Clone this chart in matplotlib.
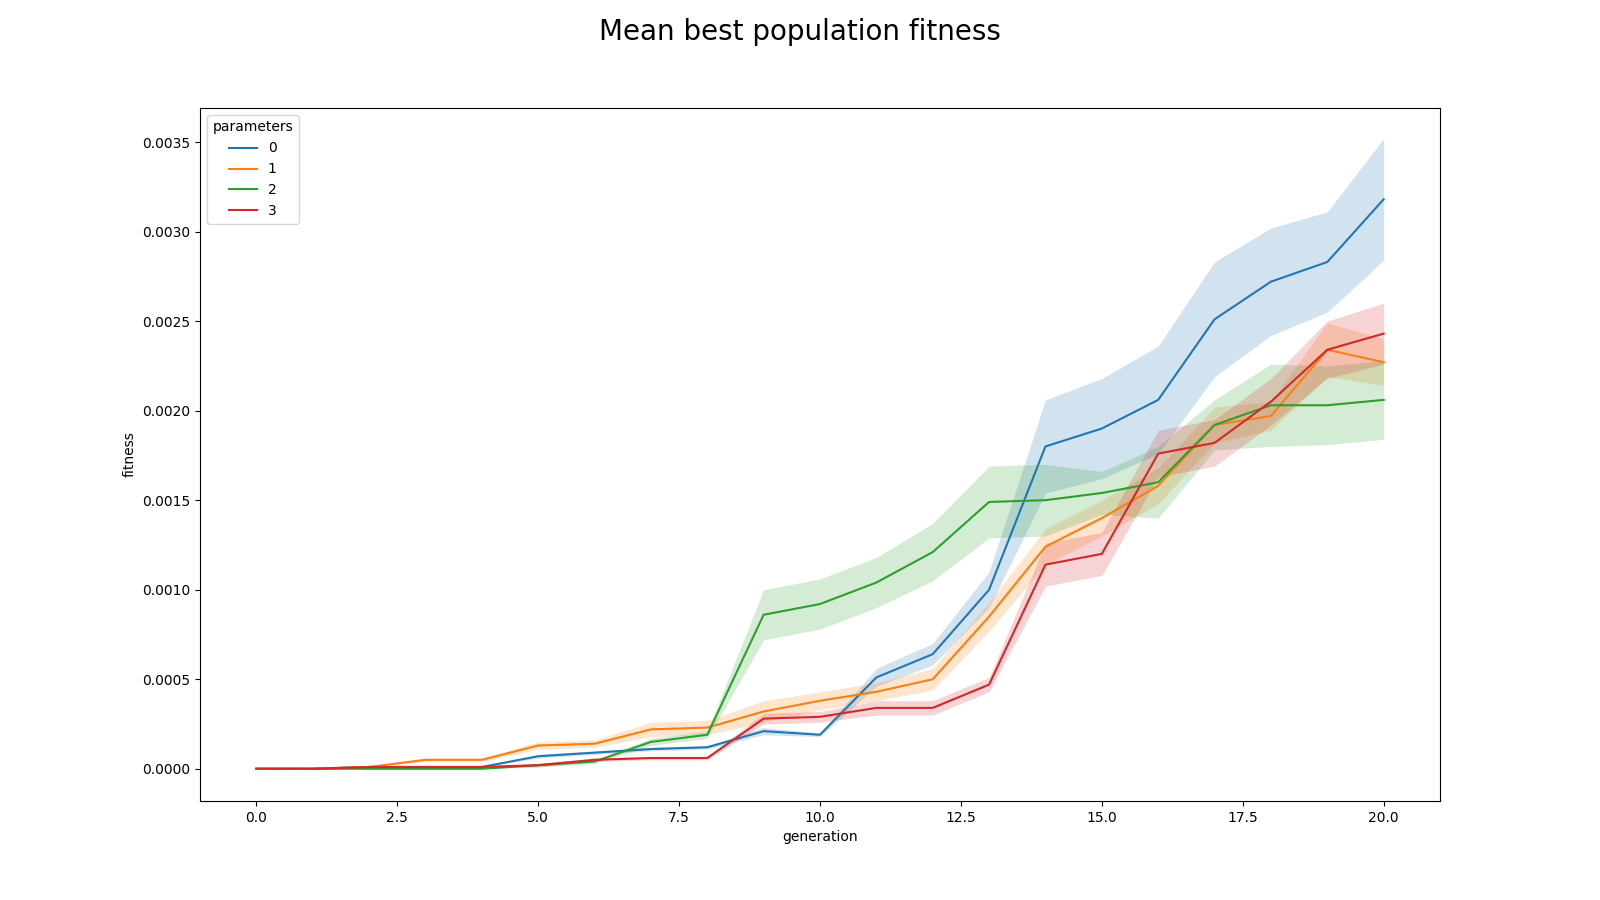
import matplotlib
matplotlib.use("Agg")
import matplotlib.pyplot as plt
import numpy as np

generation = np.arange(21)

mean_0 = [0, 0, 0.00001, 0.00001, 0.00001, 0.00007, 0.00009, 0.00011, 0.00012, 0.00021, 0.00019,
          0.00051, 0.00064, 0.00100, 0.00180, 0.00190, 0.00206, 0.00251, 0.00272, 0.00283, 0.00318]
hw_0 = [0, 0, 0, 0, 0, 0.00001, 0.00001, 0.00001, 0.00001, 0.00002, 0.00001,
        0.00005, 0.00006, 0.00010, 0.00026, 0.00028, 0.00030, 0.00032, 0.00030, 0.00028, 0.00034]

mean_1 = [0, 0, 0.00001, 0.00005, 0.00005, 0.00013, 0.00014, 0.00022, 0.00023, 0.00032, 0.00038,
          0.00043, 0.00050, 0.00085, 0.00124, 0.00140, 0.00158, 0.00192, 0.00197, 0.00234, 0.00227]
hw_1 = [0, 0, 0, 0.00001, 0.00001, 0.00002, 0.00002, 0.00004, 0.00004, 0.00006, 0.00005,
        0.00005, 0.00006, 0.00008, 0.00010, 0.00010, 0.00010, 0.00010, 0.00008, 0.00015, 0.00013]

mean_2 = [0, 0, 0, 0, 0, 0.00002, 0.00004, 0.00015, 0.00019, 0.00086, 0.00092,
          0.00104, 0.00121, 0.00149, 0.00150, 0.00154, 0.00160, 0.00192, 0.00203, 0.00203, 0.00206]
hw_2 = [0, 0, 0, 0, 0, 0.00001, 0.00001, 0.00002, 0.00002, 0.00014, 0.00014,
        0.00014, 0.00016, 0.00020, 0.00020, 0.00012, 0.00020, 0.00014, 0.00023, 0.00022, 0.00022]

mean_3 = [0, 0, 0.00001, 0.00001, 0.00001, 0.00002, 0.00005, 0.00006, 0.00006, 0.00028, 0.00029,
          0.00034, 0.00034, 0.00047, 0.00114, 0.00120, 0.00176, 0.00182, 0.00205, 0.00234, 0.00243]
hw_3 = [0, 0, 0, 0, 0, 0.00001, 0.00001, 0.00001, 0.00001, 0.00003, 0.00003,
        0.00004, 0.00004, 0.00004, 0.00012, 0.00012, 0.00013, 0.00013, 0.00013, 0.00016, 0.00017]

labels = ["0", "1", "2", "3"]
colors = ["#1f77b4", "#ff7f0e", "#2ca02c", "#d62728"]
means = [mean_0, mean_1, mean_2, mean_3]
hws = [hw_0, hw_1, hw_2, hw_3]

fig, ax = plt.subplots(figsize=(16, 9), dpi=100)
for lab, c, m, h in zip(labels, colors, means, hws):
    m = np.array(m); h = np.array(h)
    ax.fill_between(generation, m - h, m + h, color=c, alpha=0.2, linewidth=0)
    ax.plot(generation, m, color=c, label=lab, linewidth=1.5)

ax.set_xlabel("generation")
ax.set_ylabel("fitness")
ax.set_xticks(np.arange(0, 20.1, 2.5))
ax.set_yticks(np.arange(0, 0.00351, 0.0005))
ax.yaxis.set_major_formatter(matplotlib.ticker.FormatStrFormatter("%.4f"))
ax.set_xlim(-1, 21)
ax.set_ylim(-0.00018, 0.00369)
ax.legend(title="parameters", loc="upper left")
fig.suptitle("Mean best population fitness", fontsize=20)
fig.savefig("out.png", dpi=100)
